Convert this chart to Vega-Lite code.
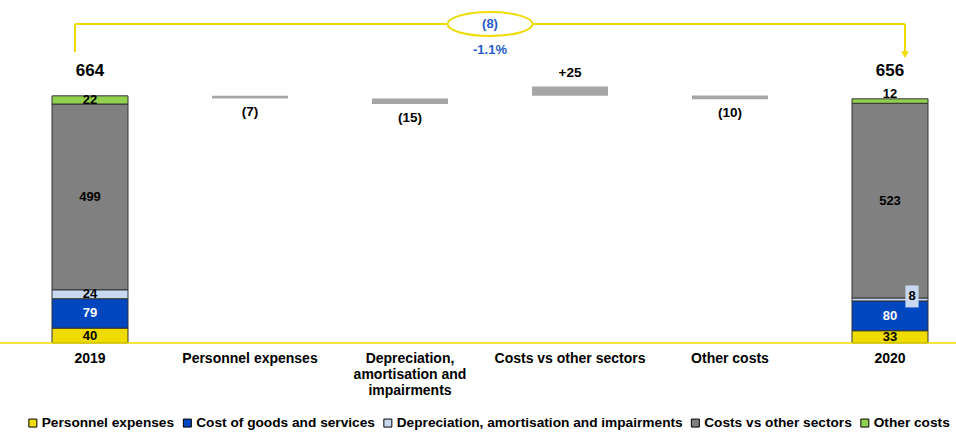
{
  "$schema": "https://vega.github.io/schema/vega-lite/v6.json",
  "width": 956,
  "height": 335,
  "autosize": {"type": "none"},
  "padding": {"left": 0, "top": 8, "right": 0, "bottom": 89},
  "background": "white",
  "data": {"values": [{}]},
  "config": {
    "view": {"stroke": null},
    "font": "Liberation Sans",
    "axisX": {"domain": false, "ticks": false, "grid": false, "labelFont": "Liberation Sans", "labelFontWeight": "bold", "labelFontSize": 14, "labelColor": "black", "labelPadding": 8, "labelAngle": 0, "labelLineHeight": 16, "labelLimit": 0}
  },
  "datasets": {
    "stack": [
      {"cat": "2019", "component": "Personnel expenses", "ord": 1, "value": 40},
      {"cat": "2019", "component": "Cost of goods and services", "ord": 2, "value": 79},
      {"cat": "2019", "component": "Depreciation, amortisation and impairments", "ord": 3, "value": 24},
      {"cat": "2019", "component": "Costs vs other sectors", "ord": 4, "value": 499},
      {"cat": "2019", "component": "Other costs", "ord": 5, "value": 22},
      {"cat": "2020", "component": "Personnel expenses", "ord": 1, "value": 33},
      {"cat": "2020", "component": "Cost of goods and services", "ord": 2, "value": 80},
      {"cat": "2020", "component": "Depreciation, amortisation and impairments", "ord": 3, "value": 8},
      {"cat": "2020", "component": "Costs vs other sectors", "ord": 4, "value": 523},
      {"cat": "2020", "component": "Other costs", "ord": 5, "value": 12}
    ],
    "totals": [
      {"cat": "2019", "total": 664},
      {"cat": "2020", "total": 656}
    ],
    "changes": [
      {"cat": "Personnel expenses", "start": 664, "end": 657, "label": "(7)"},
      {"cat": "Depreciation, amortisation and impairments", "start": 657, "end": 642, "label": "(15)"},
      {"cat": "Costs vs other sectors", "start": 664, "end": 689, "label": "+25"},
      {"cat": "Other costs", "start": 665, "end": 655, "label": "(10)"}
    ]
  },
  "layer": [
    {
      "data": {"name": "stack"},
      "mark": {"type": "bar", "stroke": "#333333", "strokeWidth": 1},
      "encoding": {
        "x": {
          "field": "cat", "type": "nominal", "title": null,
          "scale": {"domain": ["2019", "Personnel expenses", "Depreciation, amortisation and impairments", "Costs vs other sectors", "Other costs", "2020"], "paddingInner": 0.525, "paddingOuter": 0.25, "align": 0.65},
          "axis": {"title": null, "labelExpr": "datum.label == 'Depreciation, amortisation and impairments' ? ['Depreciation,', 'amortisation and', 'impairments'] : datum.label"}
        },
        "y": {"field": "value", "type": "quantitative", "stack": "zero", "scale": {"domain": [0, 900], "nice": false}, "axis": null},
        "order": {"field": "ord", "type": "quantitative"},
        "color": {
          "field": "component", "type": "nominal",
          "scale": {"domain": ["Personnel expenses", "Cost of goods and services", "Depreciation, amortisation and impairments", "Costs vs other sectors", "Other costs"], "range": ["#EEDC00", "#0046BE", "#C6D9F1", "#808080", "#92D050"]},
          "legend": {"orient": "none", "legendX": 26, "legendY": 408, "direction": "horizontal", "title": null, "symbolType": "square", "symbolSize": 64, "symbolStrokeColor": "black", "symbolStrokeWidth": 1, "labelFont": "Liberation Sans", "labelFontWeight": "bold", "labelFontSize": 13.7, "labelColor": "black", "columnPadding": 5.5, "labelOffset": 2, "labelLimit": 0}
        }
      }
    },
    {
      "mark": {"type": "rule", "color": "#EEDC00", "strokeWidth": 1.5},
      "encoding": {"y": {"datum": 0, "type": "quantitative", "axis": null}}
    },
    {
      "data": {"name": "changes"},
      "mark": {"type": "bar", "color": "#A6A6A6"},
      "encoding": {
        "x": {"field": "cat", "type": "nominal", "title": null},
        "y": {"field": "start", "type": "quantitative", "axis": null},
        "y2": {"field": "end"}
      }
    },
    {
      "data": {"name": "stack"},
      "transform": [
        {"stack": "value", "groupby": ["cat"], "sort": [{"field": "ord", "order": "ascending"}], "as": ["v0", "v1"]},
        {"calculate": "(datum.v0 + datum.v1) / 2", "as": "mid"},
        {"filter": "!(datum.cat === '2020' && (datum.ord === 5 || datum.ord === 3))"}
      ],
      "mark": {"type": "text", "fontWeight": "bold", "fontSize": 13, "baseline": "middle"},
      "encoding": {
        "x": {"field": "cat", "type": "nominal", "title": null},
        "y": {"field": "mid", "type": "quantitative", "axis": null},
        "text": {"field": "value", "type": "quantitative"},
        "color": {"condition": {"test": "datum.ord === 2", "value": "white"}, "value": "black"}
      }
    },
    {
      "data": {"name": "stack"},
      "transform": [
        {"stack": "value", "groupby": ["cat"], "sort": [{"field": "ord", "order": "ascending"}], "as": ["v0", "v1"]},
        {"calculate": "(datum.v0 + datum.v1) / 2", "as": "mid"},
        {"filter": "datum.cat === '2020' && datum.ord === 5"}
      ],
      "mark": {"type": "text", "fontWeight": "bold", "fontSize": 13, "baseline": "middle", "dy": -7, "color": "black"},
      "encoding": {
        "x": {"field": "cat", "type": "nominal", "title": null},
        "y": {"field": "mid", "type": "quantitative", "axis": null},
        "text": {"field": "value", "type": "quantitative"}
      }
    },
    {
      "data": {"name": "stack"},
      "transform": [
        {"stack": "value", "groupby": ["cat"], "sort": [{"field": "ord", "order": "ascending"}], "as": ["v0", "v1"]},
        {"calculate": "(datum.v0 + datum.v1) / 2", "as": "mid"},
        {"filter": "datum.cat === '2020' && datum.ord === 3"}
      ],
      "layer": [
        {
          "mark": {"type": "point", "shape": "M-0.6,-1L0.6,-1L0.6,1L-0.6,1Z", "size": 484, "filled": true, "color": "#C6D9F1", "opacity": 1, "xOffset": 22, "yOffset": -3},
          "encoding": {
            "x": {"field": "cat", "type": "nominal", "title": null},
            "y": {"field": "mid", "type": "quantitative", "axis": null}
          }
        },
        {
          "mark": {"type": "text", "fontWeight": "bold", "fontSize": 13, "baseline": "middle", "color": "black", "xOffset": 22, "yOffset": -3},
          "encoding": {
            "x": {"field": "cat", "type": "nominal", "title": null},
            "y": {"field": "mid", "type": "quantitative", "axis": null},
            "text": {"field": "value", "type": "quantitative"}
          }
        }
      ]
    },
    {
      "data": {"name": "totals"},
      "transform": [{"filter": "datum.cat === '2019'"}],
      "mark": {"type": "text", "fontWeight": "bold", "fontSize": 17, "baseline": "middle", "dy": -25, "color": "black"},
      "encoding": {
        "x": {"field": "cat", "type": "nominal", "title": null},
        "y": {"field": "total", "type": "quantitative", "axis": null},
        "text": {"field": "total", "type": "quantitative"}
      }
    },
    {
      "data": {"name": "totals"},
      "transform": [{"filter": "datum.cat === '2020'"}],
      "mark": {"type": "text", "fontWeight": "bold", "fontSize": 17, "baseline": "middle", "dy": -28, "color": "black"},
      "encoding": {
        "x": {"field": "cat", "type": "nominal", "title": null},
        "y": {"field": "total", "type": "quantitative", "axis": null},
        "text": {"field": "total", "type": "quantitative"}
      }
    },
    {
      "data": {"name": "changes"},
      "transform": [{"filter": "datum.end < datum.start"}],
      "mark": {"type": "text", "fontWeight": "bold", "fontSize": 13.5, "baseline": "middle", "dy": 14, "color": "black"},
      "encoding": {
        "x": {"field": "cat", "type": "nominal", "title": null},
        "y": {"field": "end", "type": "quantitative", "axis": null},
        "text": {"field": "label", "type": "nominal"}
      }
    },
    {
      "data": {"name": "changes"},
      "transform": [{"filter": "datum.end > datum.start"}],
      "mark": {"type": "text", "fontWeight": "bold", "fontSize": 13.5, "baseline": "middle", "dy": -14, "color": "black"},
      "encoding": {
        "x": {"field": "cat", "type": "nominal", "title": null},
        "y": {"field": "end", "type": "quantitative", "axis": null},
        "text": {"field": "label", "type": "nominal"}
      }
    },
    {
      "mark": {"type": "rule", "color": "#EEDC00", "strokeWidth": 2, "xOffset": -15, "x2Offset": 15},
      "encoding": {
        "x": {"datum": "2019", "type": "nominal"},
        "x2": {"datum": "2020"},
        "y": {"datum": 857, "type": "quantitative", "axis": null}
      }
    },
    {
      "mark": {"type": "rule", "color": "#EEDC00", "strokeWidth": 2, "xOffset": -15},
      "encoding": {
        "x": {"datum": "2019", "type": "nominal"},
        "y": {"datum": 857, "type": "quantitative", "axis": null},
        "y2": {"datum": 782}
      }
    },
    {
      "mark": {"type": "rule", "color": "#EEDC00", "strokeWidth": 2, "xOffset": 15},
      "encoding": {
        "x": {"datum": "2020", "type": "nominal"},
        "y": {"datum": 857, "type": "quantitative", "axis": null},
        "y2": {"datum": 778}
      }
    },
    {
      "mark": {"type": "point", "shape": "triangle-down", "size": 60, "filled": true, "color": "#EEDC00", "opacity": 1, "xOffset": 15},
      "encoding": {
        "x": {"datum": "2020", "type": "nominal"},
        "y": {"datum": 775, "type": "quantitative", "axis": null}
      }
    },
    {
      "mark": {"type": "point", "shape": "M-1,0A1,0.28 0 1,1 1,0A1,0.28 0 1,1 -1,0Z", "size": 7225, "filled": false, "fill": "white", "fillOpacity": 1, "stroke": "#EEDC00", "strokeWidth": 2, "opacity": 1, "xOffset": 80},
      "encoding": {
        "x": {"datum": "Depreciation, amortisation and impairments", "type": "nominal"},
        "y": {"datum": 857, "type": "quantitative", "axis": null}
      }
    },
    {
      "mark": {"type": "text", "fontWeight": "bold", "fontSize": 13, "baseline": "middle", "color": "#1F5CC8", "xOffset": 80, "text": "(8)"},
      "encoding": {
        "x": {"datum": "Depreciation, amortisation and impairments", "type": "nominal"},
        "y": {"datum": 857, "type": "quantitative", "axis": null}
      }
    },
    {
      "mark": {"type": "text", "fontWeight": "bold", "fontSize": 13, "baseline": "middle", "color": "#1F5CC8", "xOffset": 80, "text": "-1.1%"},
      "encoding": {
        "x": {"datum": "Depreciation, amortisation and impairments", "type": "nominal"},
        "y": {"datum": 788, "type": "quantitative", "axis": null}
      }
    }
  ]
}
